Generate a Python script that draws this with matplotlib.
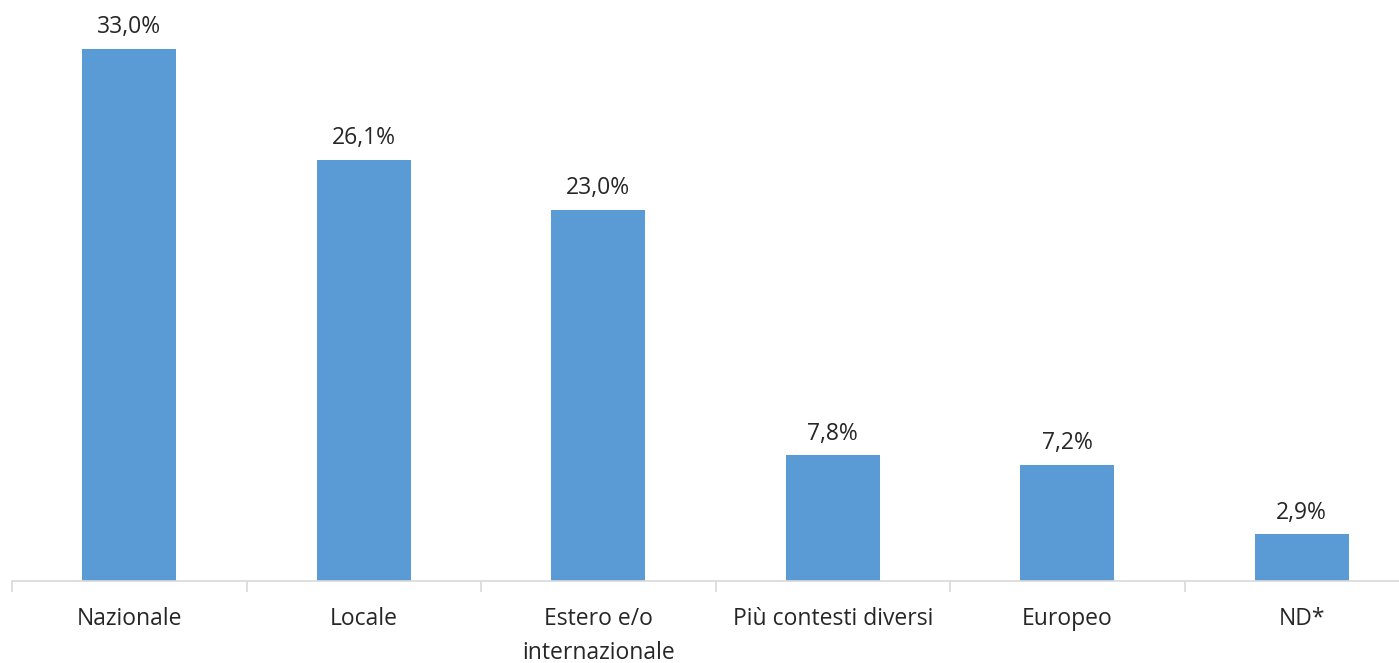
import numpy as np
import matplotlib.pyplot as plt

categories = ['Nazionale', 'Locale', 'Estero e/o\ninternazionale',
              'Più contesti diversi', 'Europeo', 'ND*']
values = [33.0, 26.1, 23.0, 7.8, 7.2, 2.9]

plt.rcParams['font.family'] = ['Open Sans', 'DejaVu Sans']

fig = plt.figure(figsize=(13.99, 6.63), dpi=100)
W, H = 1399, 663
# axis spans beyond the right edge, as in the original crop
ax = fig.add_axes([12 / W, (H - 581) / H, 1407 / W, 580.4 / H])

x = np.arange(len(categories))
ax.bar(x, values, width=0.4, color='#5B9BD5')

for xi, v in zip(x, values):
    ax.annotate('{:.1f}%'.format(v).replace('.', ','), (xi, v),
                xytext=(0, 7), textcoords='offset points',
                ha='center', va='bottom', fontsize=16.5, color='#262626')

ax.set_xlim(-0.5, len(categories) - 0.5)
ax.set_ylim(0, 36)
ax.set_xticks(x)
ax.set_xticklabels(categories, fontsize=16.5, color='#262626', linespacing=1.55)
ax.tick_params(axis='x', which='major', length=0, pad=19)
ax.set_xticks(np.arange(-0.5, len(categories)), minor=True)
ax.tick_params(axis='x', which='minor', length=8, width=1.2, color='#D9D9D9')
ax.set_yticks([])

for s in ['top', 'right', 'left']:
    ax.spines[s].set_visible(False)
ax.spines['bottom'].set_color('#D9D9D9')
ax.spines['bottom'].set_linewidth(1.2)

fig.savefig('out.png', dpi=100)
